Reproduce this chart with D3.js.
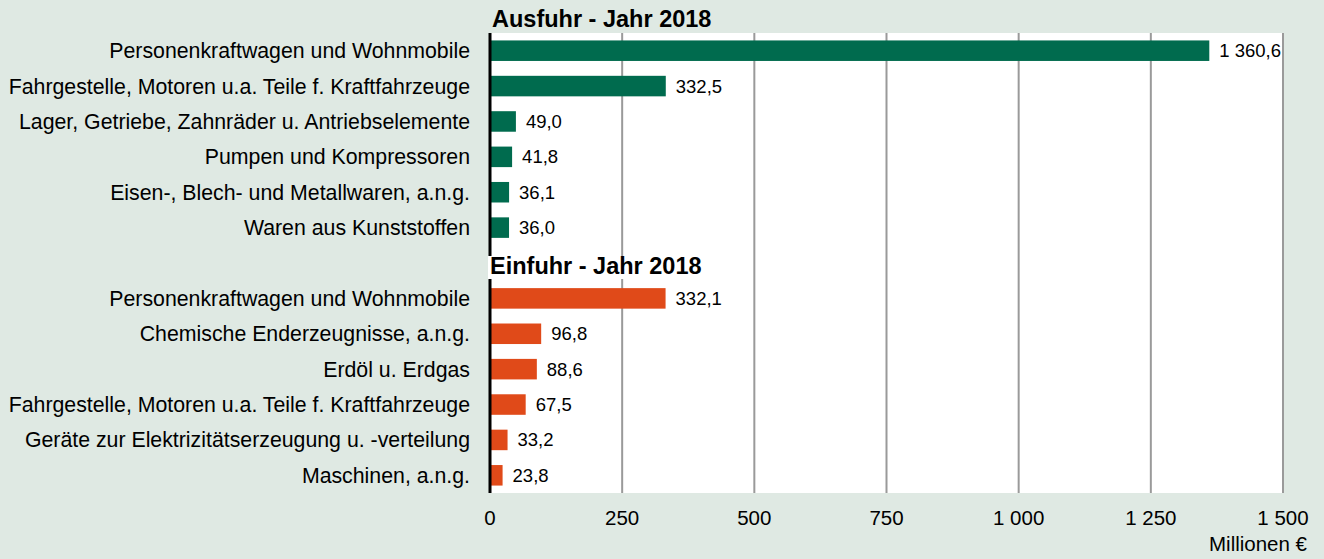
<!DOCTYPE html>
<html>
<head>
<meta charset="utf-8">
<script src="https://cdn.jsdelivr.net/npm/d3@7"></script>
<style>
  body { margin: 0; background: #dfe9e3; }
  svg { display: block; font-family: "Liberation Sans", Arial, sans-serif; }
</style>
</head>
<body>
<div id="chart"></div>
<script>
const exportTitle = 'Ausfuhr - Jahr 2018';
const importTitle = 'Einfuhr - Jahr 2018';
const exportCategories = [
    'Personenkraftwagen und Wohnmobile',
    'Fahrgestelle, Motoren u.a. Teile f. Kraftfahrzeuge',
    'Lager, Getriebe, Zahnräder u. Antriebselemente',
    'Pumpen und Kompressoren',
    'Eisen-, Blech- und Metallwaren, a.n.g.',
    'Waren aus Kunststoffen'
];
const exportValues = [1360.6, 332.5, 49.0, 41.8, 36.1, 36.0];
const importCategories = [
    'Personenkraftwagen und Wohnmobile',
    'Chemische Enderzeugnisse, a.n.g.',
    'Erdöl u. Erdgas',
    'Fahrgestelle, Motoren u.a. Teile f. Kraftfahrzeuge',
    'Geräte zur Elektrizitätserzeugung u. -verteilung',
    'Maschinen, a.n.g.'
];
const importValues = [332.1, 96.8, 88.6, 67.5, 33.2, 23.8];
const xTicks = [0, 250, 500, 750, 1000, 1250, 1500];
const unitLabel = 'Millionen €';

const width = 1324, height = 559;
const margin = {top: 33, right: 41, bottom: 66, left: 490};
const innerW = width - margin.left - margin.right;
const innerH = height - margin.top - margin.bottom;

// rows: exports, one empty slot for the import title, imports
const rows = [
    ...exportCategories.map((c, i) => ({key: 'e' + i, label: c, value: exportValues[i], type: 'export'})),
    {key: 'gap', label: '', value: null, type: 'gap'},
    ...importCategories.map((c, i) => ({key: 'i' + i, label: c, value: importValues[i], type: 'import'}))
];

const de = d3.formatLocale({decimal: ',', thousands: '\u00a0', grouping: [3], currency: ['', ' €']});
const fmtVal = de.format(',.1f');
const fmtTick = de.format(',d');

const svg = d3.select('#chart').append('svg')
    .attr('width', width)
    .attr('height', height);

const g = svg.append('g')
    .attr('transform', `translate(${margin.left},${margin.top})`);

const x = d3.scaleLinear().domain([0, 1500]).range([0, innerW]);
const y = d3.scaleBand().domain(rows.map(d => d.key)).range([0, innerH]).paddingInner(0.42).paddingOuter(0.21);

// plot background
g.append('rect')
    .attr('width', innerW)
    .attr('height', innerH)
    .attr('fill', '#fff');

// grid lines
g.selectAll('.grid')
    .data(xTicks.filter(t => t > 0))
    .enter()
    .append('line')
    .attr('x1', d => x(d)).attr('x2', d => x(d))
    .attr('y1', 0).attr('y2', innerH)
    .attr('stroke', '#9a9a9a')
    .attr('stroke-width', 2);

// bars
const data = rows.filter(d => d.type !== 'gap');
g.selectAll('.bar')
    .data(data)
    .enter()
    .append('rect')
    .attr('x', 0)
    .attr('y', d => y(d.key))
    .attr('width', d => x(d.value))
    .attr('height', y.bandwidth())
    .attr('fill', d => d.type === 'export' ? '#006b4e' : '#e04a19');

// value labels
g.selectAll('.val')
    .data(data)
    .enter()
    .append('text')
    .attr('x', d => x(d.value) + 10)
    .attr('y', d => y(d.key) + y.bandwidth() / 2)
    .attr('dy', '0.35em')
    .style('font-size', '18.5px')
    .attr('fill', '#000')
    .text(d => fmtVal(d.value));

// axis line
g.append('line')
    .attr('x1', 0).attr('x2', 0)
    .attr('y1', 0).attr('y2', innerH)
    .attr('stroke', '#000')
    .attr('stroke-width', 3);

// category labels
g.selectAll('.cat')
    .data(data)
    .enter()
    .append('text')
    .attr('x', -20)
    .attr('y', d => y(d.key) + y.bandwidth() / 2)
    .attr('dy', '0.35em')
    .attr('text-anchor', 'end')
    .style('font-size', '21.3px')
    .text(d => d.label);

// section titles
svg.append('text')
    .attr('x', margin.left + 2)
    .attr('y', 27)
    .style('font-size', '23.5px')
    .style('font-weight', 'bold')
    .text(exportTitle);

const gapY = margin.top + y('gap') + y.bandwidth() / 2;
const impTitle = svg.append('text')
    .attr('x', margin.left)
    .attr('y', gapY + 11)
    .style('font-size', '23.5px')
    .style('font-weight', 'bold')
    .text(importTitle);
const bb = impTitle.node().getBBox();
svg.insert('rect', () => impTitle.node())
    .attr('x', bb.x - 2)
    .attr('y', bb.y + 3)
    .attr('width', bb.width + 4)
    .attr('height', bb.height - 3)
    .attr('fill', '#fff');

// x axis tick labels
svg.append('g')
    .selectAll('text')
    .data(xTicks)
    .enter()
    .append('text')
    .attr('x', d => margin.left + x(d))
    .attr('y', 525)
    .attr('text-anchor', 'middle')
    .style('font-size', '20.5px')
    .text(d => fmtTick(d));

svg.append('text')
    .attr('x', 1307)
    .attr('y', 551)
    .attr('text-anchor', 'end')
    .style('font-size', '20.5px')
    .text(unitLabel);
</script>
</body>
</html>
